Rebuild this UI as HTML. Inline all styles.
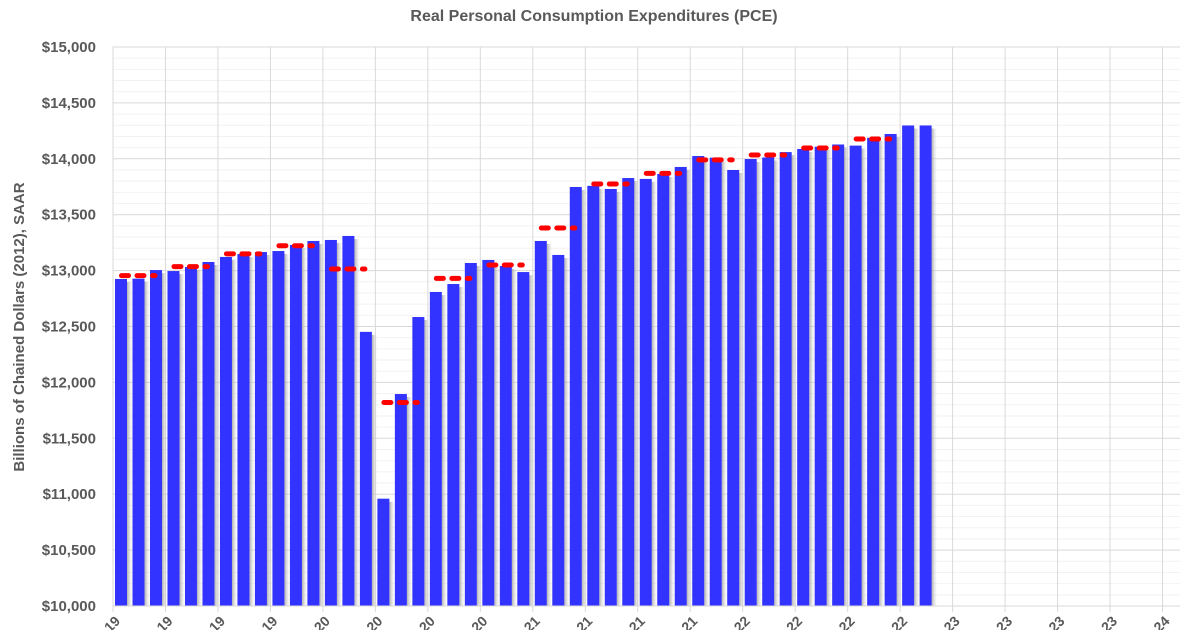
<!DOCTYPE html>
<html><head><meta charset="utf-8"><style>
body{margin:0;background:#fff;}
svg{display:block;font-family:"Liberation Sans",sans-serif;}
</style></head><body>
<svg id="chart" width="1188" height="630" viewBox="0 0 1188 630" xmlns="http://www.w3.org/2000/svg">
<defs>
<linearGradient id="sh" x1="0" x2="1" y1="0" y2="0">
<stop offset="0" stop-color="#999" stop-opacity="0.8"/>
<stop offset="1" stop-color="#ddd" stop-opacity="0.1"/>
</linearGradient>
</defs>
<text x="594" y="21" text-anchor="middle" font-size="16" font-weight="bold" fill="#595959">Real Personal Consumption Expenditures (PCE)</text>
<text transform="translate(24,327) rotate(-90)" text-anchor="middle" font-size="15" font-weight="bold" fill="#595959">Billions of Chained Dollars (2012), SAAR</text>
<g id="grid"></g><g id="bars"></g><g id="avgs"></g><g id="axes"></g>
</svg>
<script>
const months = ["Jan-19","Feb-19","Mar-19","Apr-19","May-19","Jun-19","Jul-19","Aug-19","Sep-19","Oct-19","Nov-19","Dec-19","Jan-20","Feb-20","Mar-20","Apr-20","May-20","Jun-20","Jul-20","Aug-20","Sep-20","Oct-20","Nov-20","Dec-20","Jan-21","Feb-21","Mar-21","Apr-21","May-21","Jun-21","Jul-21","Aug-21","Sep-21","Oct-21","Nov-21","Dec-21","Jan-22","Feb-22","Mar-22","Apr-22","May-22","Jun-22","Jul-22","Aug-22","Sep-22","Oct-22","Nov-22"];
const pce = [12925,12928,13005,12996,13032,13077,13122,13148,13166,13175,13229,13265,13274,13310,12452,10960,11896,12585,12809,12880,13068,13095,13041,12987,13265,13140,13748,13758,13730,13828,13820,13864,13927,14025,14010,13900,13998,14012,14060,14088,14108,14128,14118,14188,14222,14298,14298];
const qAvg = [12955,13036,13150,13222,13014,11820,12930,13050,13381,13775,13870,13990,14034,14097,14177];
const xLabels = ["Jan-19","Apr-19","Jul-19","Oct-19","Jan-20","Apr-20","Jul-20","Oct-20","Jan-21","Apr-21","Jul-21","Oct-21","Jan-22","Apr-22","Jul-22","Oct-22","Jan-23","Apr-23","Jul-23","Oct-23","Jan-24"];
const yTicks = [10000,10500,11000,11500,12000,12500,13000,13500,14000,14500,15000];

const NS="http://www.w3.org/2000/svg";
const L=113,R=1180,T=47,B=606,MW=(R-L)/61;
const y=v=>B-(v-10000)/5000*(B-T);
const x=i=>L+i*MW;
function mk(p,tag,a){const e=document.createElementNS(NS,tag);for(const k in a)e.setAttribute(k,a[k]);p.appendChild(e);return e;}
const grid=document.getElementById('grid'),bars=document.getElementById('bars'),avgs=document.getElementById('avgs'),axes=document.getElementById('axes');
for(let v=10000;v<=15000;v+=100){
 const major=v%500===0;
 const ln=mk(grid,'line',{x1:L,x2:R,y1:y(v),y2:y(v),stroke:major?'#d9d9d9':'#f2f2f2','stroke-width':1});
 
 
}
xLabels.forEach((lab,k)=>{
 const gx=x(k*3);
 const ln=mk(grid,'line',{x1:gx,x2:gx,y1:T,y2:B+6,stroke:'#d9d9d9','stroke-width':1});
 
 
 const t=mk(axes,'text',{transform:`translate(${gx+8},622) rotate(-45)`,'text-anchor':'end','font-size':14,'font-weight':'bold',fill:'#595959'});
 t.textContent=lab;
 
 
});
yTicks.forEach(v=>{
 const t=mk(axes,'text',{x:96,y:y(v)+5,'text-anchor':'end','font-size':15,'font-weight':'bold',fill:'#595959'});
 t.textContent='$'+v.toLocaleString('en-US');
 
 
});
pce.forEach((v,i)=>{
 const bx=x(i)+2, by=y(v);
 const s=mk(bars,'rect',{x:bx+12,y:by+3,width:5,height:B-by-3,fill:'url(#sh)'});
 
 
 const r=mk(bars,'rect',{x:bx,y:by,width:12,height:B-by,fill:'#3333ff'});
 
 
});
qAvg.forEach((v,q)=>{
 const x1=x(q*3)+8.5, x2=x(q*3)+42, yy=y(v);
 const ln=mk(avgs,'line',{x1:x1,x2:x2,y1:yy,y2:yy,stroke:'#ff0000','stroke-width':5,'stroke-linecap':'round','stroke-dasharray':'7 8.5'});
 
 
});
const ax=mk(axes,'line',{x1:L,x2:R,y1:B,y2:B,stroke:'#d9d9d9','stroke-width':1});


</script>
</body></html>
